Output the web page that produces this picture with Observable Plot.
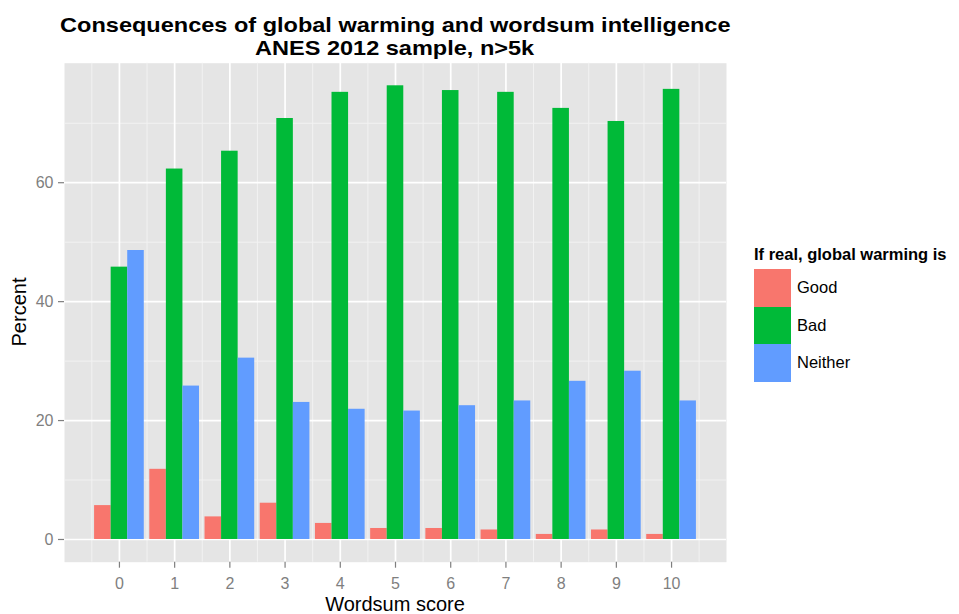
<!DOCTYPE html>
<html><head><meta charset="utf-8">
<script src="https://cdn.jsdelivr.net/npm/d3@7"></script>
<script src="https://cdn.jsdelivr.net/npm/@observablehq/plot@0.6"></script>
<style>
body{margin:0;background:#fff;font-family:"Liberation Sans",Arial,sans-serif;}
#wrap{position:relative;width:959px;height:614px;overflow:hidden;background:#fff;}
#wrap svg{position:absolute;left:0;top:0;}
.t{position:absolute;white-space:nowrap;color:#000;}
.title{left:0;width:790px;text-align:center;font-weight:bold;font-size:21px;line-height:21px;}
.title span{display:inline-block;transform:scaleX(1.12);}
.key{position:absolute;width:37px;height:37.5px;}
.klab{position:absolute;font-size:16.5px;color:#000;}
</style></head>
<body><div id="wrap"></div>
<script>
const scores = [0, 1, 2, 3, 4, 5, 6, 7, 8, 9, 10];
const good = [5.7, 11.8, 3.8, 6.1, 2.7, 1.85, 1.85, 1.6, 0.85, 1.6, 0.85];
const bad = [45.8, 62.3, 65.3, 70.8, 75.2, 76.3, 75.5, 75.2, 72.5, 70.3, 75.7];
const neither = [48.6, 25.8, 30.5, 23.05, 21.9, 21.6, 22.5, 23.3, 26.6, 28.3, 23.3];
const seriesNames = ["Good", "Bad", "Neither"];
const seriesColors = ["#F8766D", "#00BA38", "#619CFF"];
const yTicks = [0, 20, 40, 60];
const yMinor = [10, 30, 50, 70];
const xMinor = [-0.5, 0.5, 1.5, 2.5, 3.5, 4.5, 5.5, 6.5, 7.5, 8.5, 9.5, 10.5];
const titleLines = ["Consequences of global warming and wordsum intelligence", "ANES 2012 sample, n>5k"];
const xTitle = "Wordsum score";
const yTitle = "Percent";
const legendTitle = "If real, global warming is";

const seriesValues = [good, bad, neither];
const barW = 0.3;
const rows = [];
seriesNames.forEach((name, i) => {
  scores.forEach((s, j) => {
    const c = s + (i - 1) * barW;
    rows.push({score: s, series: name, value: seriesValues[i][j], x1: c - barW / 2, x2: c + barW / 2});
  });
});

const chart = Plot.plot({
  width: 959, height: 614,
  marginLeft: 64, marginRight: 233, marginTop: 62.7, marginBottom: 52.3,
  style: {fontFamily: '"Liberation Sans", Arial, sans-serif', color: "#7F7F7F", background: "transparent"},
  x: {domain: [-0.995, 10.995], axis: null},
  y: {domain: [-3.82, 80.1], axis: null},
  color: {domain: seriesNames, range: seriesColors},
  marks: [
    Plot.frame({fill: "#E5E5E5", stroke: null}),
    Plot.ruleX(xMinor, {stroke: "#F2F2F2", strokeWidth: 1}),
    Plot.ruleY(yMinor, {stroke: "#F2F2F2", strokeWidth: 1}),
    Plot.ruleX(scores, {stroke: "#FFFFFF", strokeWidth: 1.7}),
    Plot.ruleY(yTicks, {stroke: "#FFFFFF", strokeWidth: 1.7}),
    Plot.rect(rows, {x1: "x1", x2: "x2", y1: d => 0, y2: "value", fill: "series", inset: 0}),
    Plot.axisX(scores, {tickSize: 6, tickPadding: 9, fontSize: 16, label: null, color: "#7F7F7F", strokeWidth: 1.2}),
    Plot.axisY(yTicks, {tickSize: 6, tickPadding: 5, fontSize: 16, label: null, color: "#7F7F7F", strokeWidth: 1.2})
  ]
});

const wrap = document.getElementById("wrap");
wrap.appendChild(chart);

function addText(cls, txt, css) {
  const d = document.createElement("div");
  d.className = "t " + cls;
  d.textContent = txt;
  Object.assign(d.style, css);
  wrap.appendChild(d);
  return d;
}
// Title lines
titleLines.forEach((line, i) => {
  const d = document.createElement("div");
  d.className = "t title";
  d.style.top = (i === 0 ? 14 : 37) + "px";
  const sp = document.createElement("span");
  sp.textContent = line;
  d.appendChild(sp);
  wrap.appendChild(d);
});
// Axis titles
addText("", xTitle, {left: "0px", width: "790px", textAlign: "center", top: "593px", fontSize: "20px", lineHeight: "22px"});
addText("", yTitle, {left: "19px", top: "312px", fontSize: "20px", lineHeight: "20px", transform: "translate(-50%,-50%) rotate(-90deg)"});
// Legend
addText("", legendTitle, {left: "754px", top: "244px", fontSize: "16.5px", fontWeight: "bold", lineHeight: "20px"});
seriesNames.forEach((name, i) => {
  const k = document.createElement("div");
  k.className = "key";
  k.style.left = "754px";
  k.style.top = (269 + i * 37.5) + "px";
  k.style.background = seriesColors[i];
  wrap.appendChild(k);
  const l = document.createElement("div");
  l.className = "klab";
  l.textContent = name;
  l.style.left = "797px";
  l.style.top = (269 + i * 37.5 + 8) + "px";
  l.style.lineHeight = "20px";
  wrap.appendChild(l);
});
</script>
</body></html>
